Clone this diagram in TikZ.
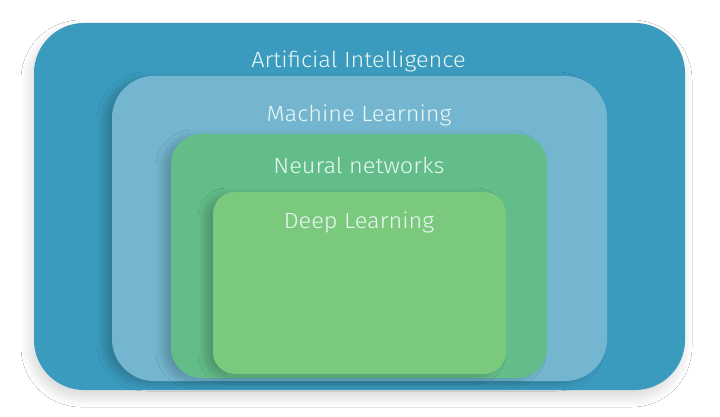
\documentclass[tikz,border=0pt]{standalone}
\usepackage{fontspec}
\setmainfont[FakeStretch=1.07]{Fira Sans Light}
\usetikzlibrary{shadows.blur}
\definecolor{aiblue}{HTML}{3A9BBE}
\definecolor{mlblue}{HTML}{74B6D0}
\definecolor{nngreen}{HTML}{63BD89}
\definecolor{dlgreen}{HTML}{7AC97C}
\definecolor{txt}{HTML}{EAF8F4}
\tikzset{
  layer/.style={draw=none, rounded corners=#1, inner sep=0pt},
  lbl/.style={anchor=base, text=txt, font=\fontsize{22}{26}\selectfont, inner sep=0pt},
  softshadow/.style={blur shadow={shadow xshift=-8pt, shadow yshift=-3pt, shadow blur radius=7pt, shadow blur steps=16, shadow opacity=20}},
}
\begin{document}
\begin{tikzpicture}[x=1pt,y=-1pt]
\useasboundingbox[fill=white] (0,0) rectangle (720,417);
\node[layer=50pt, fill=aiblue, minimum width=651pt, minimum height=367pt,
  blur shadow={shadow xshift=-3pt, shadow yshift=-7pt, shadow blur radius=10pt, shadow blur steps=20, shadow opacity=16}] (ai) at (359.5,206.5) {};
\node[layer=42pt, fill=mlblue, minimum width=495pt, minimum height=305pt, softshadow] (ml) at (359.5,228.5) {};
\node[layer=30pt, fill=nngreen, minimum width=376pt, minimum height=244pt, softshadow] (nn) at (359,256) {};
\node[layer=22pt, fill=dlgreen, minimum width=293pt, minimum height=182pt, softshadow] (dl) at (359.5,283) {};
\node[lbl] (tai) at (358.5,68) {Artificial Intelligence};
\node[lbl] (tml) at (359,122) {Machine Learning};
\node[lbl] (tnn) at (359,173) {Neural networks};
\node[lbl] (tdl) at (359,228) {Deep Learning};
\end{tikzpicture}
\end{document}
